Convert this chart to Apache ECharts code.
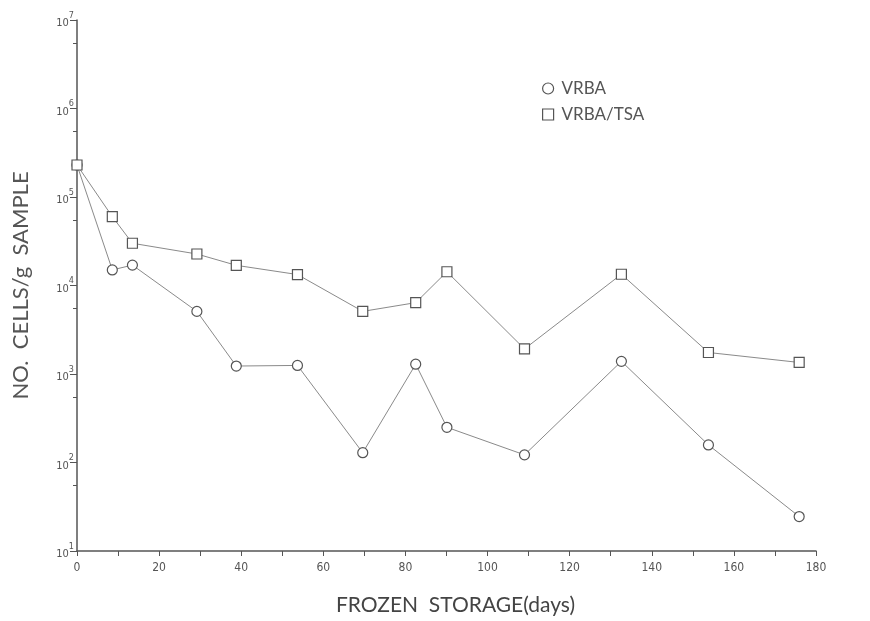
<!DOCTYPE html>
<html>
<head>
<meta charset="utf-8">
<script src="https://cdn.jsdelivr.net/npm/echarts@6/dist/echarts.min.js"></script>
<style>
html,body{margin:0;padding:0;background:#fff;}
#chart{width:870px;height:621px;}
</style>
</head>
<body>
<div id="chart"></div>
<script>
// Storage time (days), shared by both series
var days = [0, 8.6, 13.5, 29.2, 38.8, 53.7, 69.6, 82.5, 90.1, 109, 132.6, 153.8, 175.9];
// Cells per g sample
var vrba = [230000, 15000, 17000, 5100, 1230, 1250, 129, 1290, 250, 122, 1390, 158, 24.5];
var vrbaTsa = [230000, 60000, 30000, 22700, 16900, 13300, 5100, 6400, 14300, 1920, 13400, 1750, 1350];
var seriesNames = ['VRBA', 'VRBA/TSA'];
var xTitle = 'FROZEN  STORAGE(days)';
var yTitle = 'NO.  CELLS/g  SAMPLE';

function pairs(xs, ys) {
  return xs.map(function (x, i) { return [x, ys[i]]; });
}

var chart = echarts.init(document.getElementById('chart'));
var lineGray = '#8a8a8a';
var markGray = '#555';
chart.setOption({
  animation: false,
  backgroundColor: '#fff',
  grid: { left: 77, right: 54, top: 20, bottom: 67 },
  legend: {
    orient: 'vertical',
    left: 537,
    top: 75,
    itemGap: 9,
    itemWidth: 11,
    itemHeight: 11,
    textStyle: { fontFamily: 'Lato', fontSize: 17, color: '#555', padding: [0, 0, 0, 3] },
    data: [
      { name: seriesNames[0], icon: 'circle', itemStyle: { color: '#fff', borderColor: markGray, borderWidth: 1.2 } },
      { name: seriesNames[1], icon: 'rect', itemStyle: { color: '#fff', borderColor: markGray, borderWidth: 1.2 } }
    ]
  },
  xAxis: {
    type: 'value',
    min: 0, max: 180, interval: 20,
    name: xTitle,
    nameLocation: 'middle',
    nameGap: 44,
    nameTextStyle: { fontFamily: 'Lato', fontSize: 21, color: '#444', padding: [0, 0, 0, 18] },
    axisLine: { lineStyle: { color: '#555', width: 1.5 } },
    axisTick: { show: true, length: 5, lineStyle: { color: '#555' } },
    minorTick: { show: true, splitNumber: 2, length: 5, lineStyle: { color: '#555' } },
    splitLine: { show: false },
    axisLabel: { fontFamily: 'DejaVu Sans Condensed', fontSize: 12, color: '#555', margin: 11 }
  },
  yAxis: {
    type: 'log',
    logBase: 10,
    min: 10, max: 10000000,
    name: yTitle,
    nameLocation: 'middle',
    nameRotate: 90,
    nameGap: 45,
    nameTextStyle: { fontFamily: 'Lato', fontSize: 22, color: '#555' },
    axisLine: { show: true, lineStyle: { color: '#555', width: 1.5 } },
    axisTick: { show: true, length: 7, lineStyle: { color: '#555' } },
    minorTick: { show: true, splitNumber: 2, length: 4, lineStyle: { color: '#555' } },
    splitLine: { show: false },
    axisLabel: {
      margin: 3,
      formatter: function (v) {
        var e = Math.round(Math.log(v) / Math.LN10);
        return '{b|10}{s|' + e + '}';
      },
      rich: {
        b: { fontFamily: 'DejaVu Sans Condensed', fontSize: 11, color: '#555', verticalAlign: 'bottom' },
        s: { fontFamily: 'DejaVu Sans Condensed', fontSize: 9, color: '#555', verticalAlign: 'top', padding: [0, 0, 9, 0] }
      }
    }
  },
  series: [
    {
      name: seriesNames[0],
      type: 'line',
      data: pairs(days, vrba),
      symbol: 'circle',
      symbolSize: 10,
      lineStyle: { color: lineGray, width: 1 },
      itemStyle: { color: '#fff', borderColor: markGray, borderWidth: 1.2 },
      z: 2
    },
    {
      name: seriesNames[1],
      type: 'line',
      data: pairs(days, vrbaTsa),
      symbol: 'rect',
      symbolSize: 10,
      lineStyle: { color: lineGray, width: 1 },
      itemStyle: { color: '#fff', borderColor: markGray, borderWidth: 1.2 },
      z: 3
    }
  ]
});
</script>
</body>
</html>
